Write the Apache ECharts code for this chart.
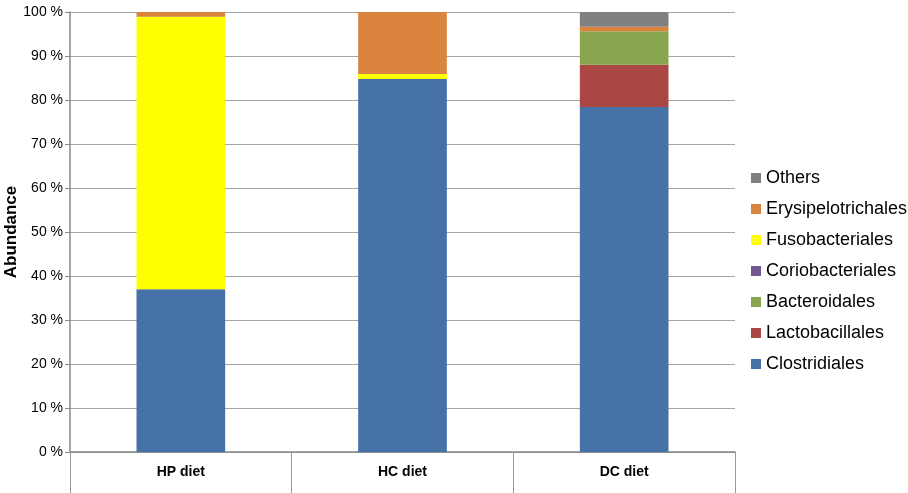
<!DOCTYPE html>
<html>
<head>
<meta charset="utf-8">
<script src="https://cdn.jsdelivr.net/npm/echarts@6/dist/echarts.min.js"></script>
<style>
  html, body { margin: 0; padding: 0; background: #fff; }
  #chart { width: 908px; height: 493px; }
</style>
</head>
<body>
<div id="chart"></div>
<script>
// Relative abundance (%) of bacterial orders per diet
const diets = ['HP diet', 'HC diet', 'DC diet'];
const clostridiales = [37.0, 84.8, 78.4];
const lactobacillales = [0, 0, 9.6];
const bacteroidales = [0, 0, 7.6];
const coriobacteriales = [0, 0, 0.05];
const fusobacteriales = [61.9, 1.1, 0];
const erysipelotrichales = [1.1, 14.1, 1.0];
const others = [0, 0, 3.35];
const yTicks = [0, 10, 20, 30, 40, 50, 60, 70, 80, 90, 100];

const seriesDefs = [
  { name: 'Clostridiales', data: clostridiales, color: '#4672A8' },
  { name: 'Lactobacillales', data: lactobacillales, color: '#AA4643' },
  { name: 'Bacteroidales', data: bacteroidales, color: '#89A54E' },
  { name: 'Coriobacteriales', data: coriobacteriales, color: '#71588F' },
  { name: 'Fusobacteriales', data: fusobacteriales, color: '#FFFF00' },
  { name: 'Erysipelotrichales', data: erysipelotrichales, color: '#DB843D' },
  { name: 'Others', data: others, color: '#808080' }
];

const chart = echarts.init(document.getElementById('chart'), null, { renderer: 'canvas' });
chart.setOption({
  animation: false,
  textStyle: { fontFamily: 'Liberation Sans, Arial, sans-serif' },
  grid: { left: 70, right: 173, top: 12, bottom: 41, containLabel: false, outerBoundsMode: 'none' },
  legend: {
    orient: 'vertical',
    left: 746,
    top: 163,
    data: seriesDefs.map(s => s.name).reverse(),
    icon: 'rect',
    itemWidth: 10,
    itemHeight: 10,
    itemGap: 11,
    textStyle: { fontSize: 18, color: '#000', lineHeight: 20 }
  },
  xAxis: {
    type: 'category',
    data: diets,
    axisLine: { lineStyle: { color: '#888', width: 1.5 } },
    axisTick: { show: true, alignWithLabel: false, length: 41, lineStyle: { color: '#999', width: 1 } },
    axisLabel: { fontSize: 14, fontWeight: 'bold', color: '#000', margin: 13 }
  },
  yAxis: {
    type: 'value',
    min: yTicks[0],
    max: yTicks[yTicks.length - 1],
    interval: 10,
    name: 'Abundance',
    nameLocation: 'middle',
    nameGap: 50,
    nameMoveOverlap: false,
    nameTextStyle: { fontSize: 17, fontWeight: 'bold', color: '#000' },
    axisLine: { show: true, lineStyle: { color: '#888', width: 1.5 } },
    axisTick: { show: true, length: 5, lineStyle: { color: '#888' } },
    axisLabel: { fontSize: 14, color: '#000', margin: 7, formatter: '{value} %' },
    splitLine: { lineStyle: { color: '#A6A6A6', width: 1 } }
  },
  series: seriesDefs.map(s => ({
    name: s.name,
    type: 'bar',
    stack: 'total',
    barWidth: '40%',
    data: s.data,
    itemStyle: { color: s.color }
  }))
});
</script>
</body>
</html>
